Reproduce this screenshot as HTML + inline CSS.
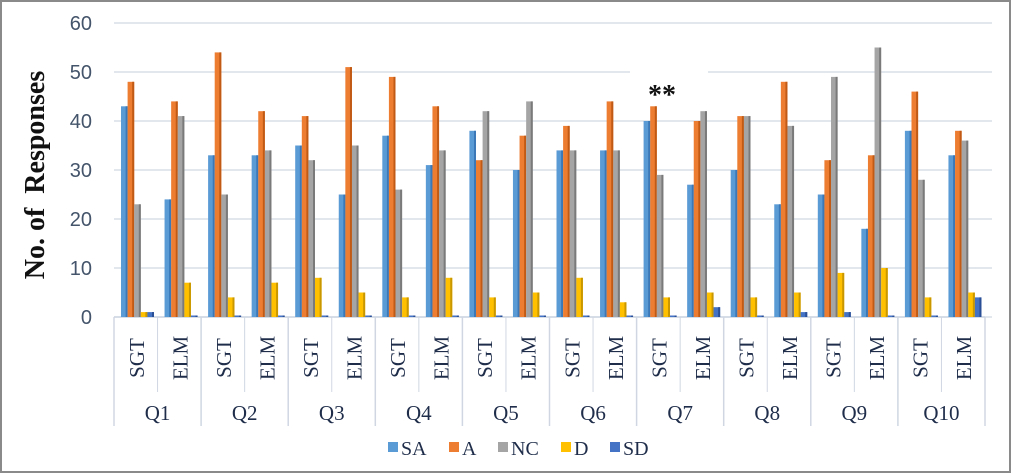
<!DOCTYPE html>
<html><head><meta charset="utf-8"><style>
html,body{margin:0;padding:0;background:#fff}
svg{display:block}
</style></head><body>
<svg id="c" width="1011" height="473" xmlns="http://www.w3.org/2000/svg">
<rect x="1" y="1" width="1009" height="471" fill="#fff" stroke="#8a8a8a" stroke-width="2"/>
<g id="g"></g>
<rect x="630" y="70" width="78" height="30" fill="#fff"/>
<text x="662" y="104" font-family="Liberation Serif, serif" font-size="28" font-weight="bold" fill="#111" text-anchor="middle">**</text>
<text transform="translate(44,175) rotate(-90)" font-family="Liberation Serif, serif" font-size="28" font-weight="bold" fill="#111" text-anchor="middle" xml:space="preserve">No. of  Responses</text>
<g font-family="Liberation Serif, serif" font-size="20" fill="#1f2d4a">
<rect x="388" y="442" width="10" height="10" fill="#5b9bd5"/><text x="401" y="455">SA</text>
<rect x="449" y="442" width="10" height="10" fill="#ed7d31"/><text x="462" y="455">A</text>
<rect x="498" y="442" width="10" height="10" fill="#a5a5a5"/><text x="511" y="455">NC</text>
<rect x="561" y="442" width="10" height="10" fill="#ffc000"/><text x="574" y="455">D</text>
<rect x="610" y="442" width="10" height="10" fill="#4472c4"/><text x="623" y="455">SD</text>
</g>
</svg>
<script>
var d=[[43,48,23,1,1],[24,44,41,7,0],[33,54,25,4,0],[33,42,34,7,0],[35,41,32,8,0],[25,51,35,5,0],[37,49,26,4,0],[31,43,34,8,0],[38,32,42,4,0],[30,37,44,5,0],[34,39,34,8,0],[34,44,34,3,0],[40,43,29,4,0],[27,40,42,5,2],[30,41,41,4,0],[23,48,39,5,1],[25,32,49,9,1],[18,33,55,10,0],[38,46,28,4,0],[33,38,36,5,4]];
var fc=["#5b9bd5","#ed7d31","#a5a5a5","#ffc000","#4472c4"];
var sc=["#3a78b8","#c05a15","#7a7a7a","#c99700","#2a4f96"];
var x0=114,x1=985,y0=317,k=4.9,gw=(x1-x0)/20;
var s="";
for(var i=0;i<=6;i++){var y=y0-i*10*k;s+='<line x1="'+x0+'" y1="'+y+'" x2="992" y2="'+y+'" stroke="#d9dfe8" stroke-width="1.5"/>';
s+='<text x="92" y="'+(y+7)+'" font-family="Liberation Sans, sans-serif" font-size="20" fill="#44546a" text-anchor="end">'+(i*10)+'</text>';}
s+='<line x1="'+x0+'" y1="'+y0+'" x2="'+x1+'" y2="'+y0+'" stroke="#d0d7e2" stroke-width="1.5"/>';
for(var j=0;j<20;j++){var gx=x0+j*gw;
 for(var b=0;b<5;b++){var v=d[j][b];var h=Math.max(v*k,1.5);var bx=gx+7+b*6.6;
  s+='<rect x="'+bx+'" y="'+(y0-h)+'" width="6.6" height="'+h+'" fill="'+fc[b]+'"/>';
  s+='<rect x="'+(bx+4.6)+'" y="'+(y0-h)+'" width="2" height="'+h+'" fill="'+sc[b]+'"/>';}
 var cx=gx+gw/2;
 s+='<text transform="translate('+(cx+8)+',358) rotate(-90)" font-family="Liberation Serif, serif" font-size="21" fill="#1f2d4a" text-anchor="middle">'+(j%2?'ELM':'SGT')+'</text>';
 if(j%2==0){s+='<line x1="'+gx+'" y1="'+y0+'" x2="'+gx+'" y2="426" stroke="#d0d7e2" stroke-width="1.5"/>';
  s+='<text x="'+(gx+gw)+'" y="420" font-family="Liberation Serif, serif" font-size="21" fill="#1f2d4a" text-anchor="middle">Q'+(j/2+1)+'</text>';}
 else s+='<line x1="'+(gx)+'" y1="'+y0+'" x2="'+gx+'" y2="392" stroke="#d0d7e2" stroke-width="1"/>';
}
s+='<line x1="'+x1+'" y1="'+y0+'" x2="'+x1+'" y2="426" stroke="#d0d7e2" stroke-width="1.5"/>';
document.getElementById("g").innerHTML=s;
</script>
</body></html>
